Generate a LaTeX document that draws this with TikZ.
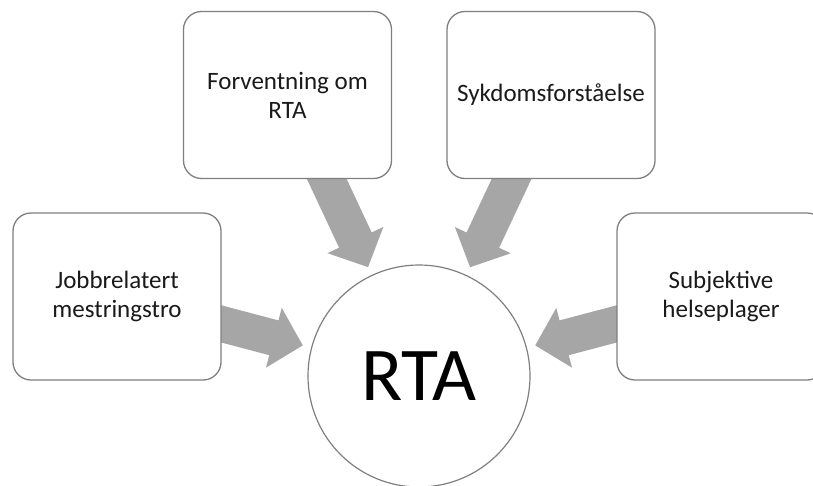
\documentclass[tikz,border=0pt]{standalone}
\usepackage{fontspec}
\setmainfont{Carlito}
\usetikzlibrary{arrows.meta,backgrounds}
\definecolor{arrowgray}{HTML}{A6A6A6}
\definecolor{linegray}{HTML}{7F7F7F}
\definecolor{textdark}{HTML}{1A1A1A}
\begin{document}
\begin{tikzpicture}[x=1pt,y=-1pt,
  box/.style={draw=linegray, line width=1.3pt, rounded corners=18pt, fill=white,
    minimum width=208pt, minimum height=167pt, align=center, text=textdark,
    font=\fontsize{25}{29}\selectfont, inner sep=0pt},
  hub/.style={circle, draw=linegray, line width=1.2pt, fill=white,
    minimum size=222pt, inner sep=0pt, font=\fontsize{76}{80}\selectfont},
  bigarrow/.style={draw=arrowgray, line width=36pt,
    -{Triangle[length=30pt,width=60pt]}, shorten >=8.5pt, shorten <=-20pt}]
\useasboundingbox (0,0) rectangle (813,485);
\clip (0,0) rectangle (813,485);
\node[hub] (c) at (419,376) {RTA};
\node[box] (b1) at (117,296.5) {Jobbrelatert\\mestringstro};
\node[box] (b2) at (287.5,95) {Forventning om\\RTA};
\node[box] (b3) at (551,95) {Sykdomsforståelse};
\node[box] (b4) at (721,296.5) {Subjektive\\helseplager};
\begin{scope}[on background layer]
\draw[bigarrow] (b1) -- (c);
\draw[bigarrow] (b2) -- (c);
\draw[bigarrow] (b3) -- (c);
\draw[bigarrow] (b4) -- (c);
\end{scope}
\end{tikzpicture}
\end{document}
